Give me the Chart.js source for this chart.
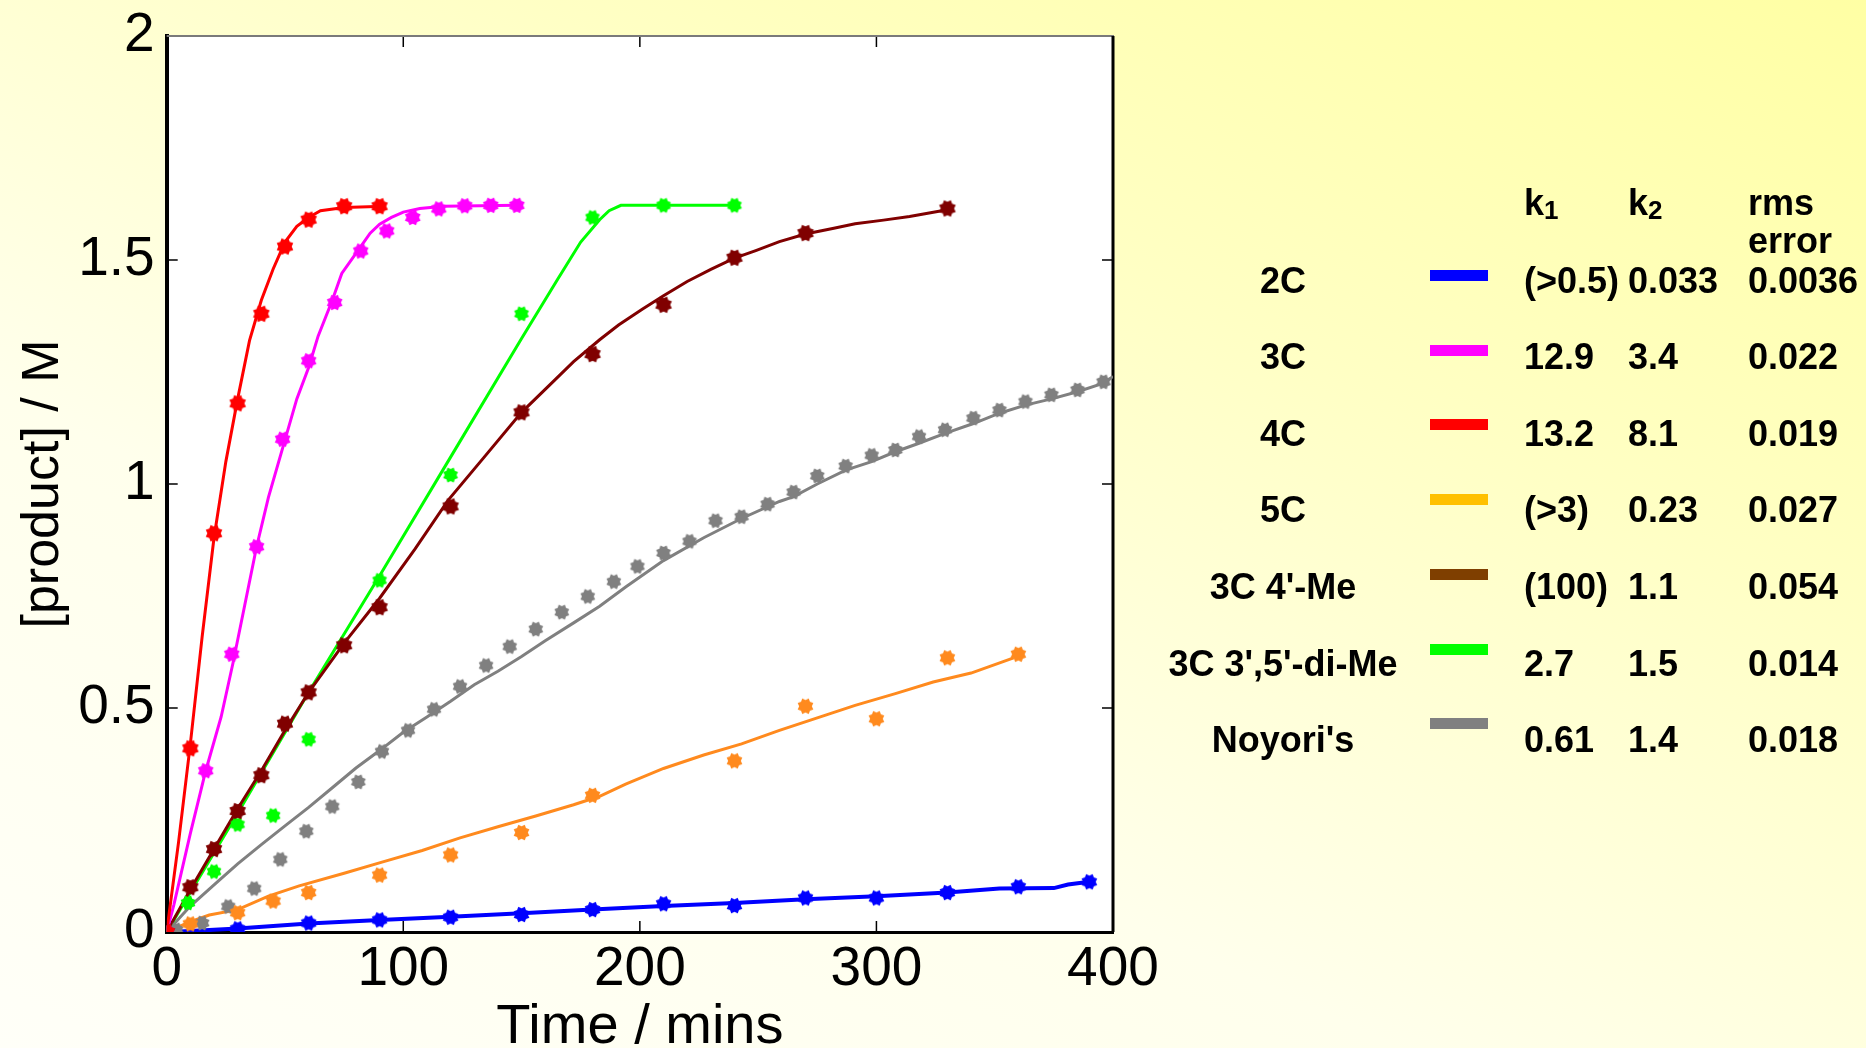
<!DOCTYPE html>
<html>
<head>
<meta charset="utf-8">
<script src="https://cdn.jsdelivr.net/npm/chart.js@4.4.1/dist/chart.umd.min.js"></script>
<style>
  html, body { margin:0; padding:0; }
  body {
    width:1866px; height:1048px; overflow:hidden; position:relative;
    background: linear-gradient(205deg, #FFFFA4 0%, #FFFFC4 32%, #FFFFEC 66%, #FFFFF8 100%);
    font-family: "Liberation Sans", Arial, sans-serif;
  }
  #wrap { position:absolute; left:0; top:0; width:1866px; height:1048px; }
  .t { position:absolute; font-weight:bold; font-size:36px; line-height:36px; color:#000; white-space:nowrap; }
  .lab { width:300px; text-align:center; }
  .bar { position:absolute; width:58px; height:11px; }
  sub { font-size:26px; position:relative; top:4px; vertical-align:baseline; }
</style>
</head>
<body>
<div id="wrap"><canvas id="c" width="1866" height="1048"></canvas></div>
<div id="legend"></div>
<script>
// ---------- axis ticks ----------
const xTicks = [0, 100, 200, 300, 400];
const yTicks = [0, 0.5, 1, 1.5, 2];
const yTickLabels = ['0', '0.5', '1', '1.5', '2'];
const xTickLabels = ['0', '100', '200', '300', '400'];

// ---------- 2C (blue) ----------
const t2C = [0, 30, 60, 90, 120, 150, 180, 210, 240, 270, 300, 330, 360, 390];
const y2C = [0, 0.007, 0.02, 0.027, 0.033, 0.039, 0.05, 0.063, 0.059, 0.076, 0.076, 0.088, 0.101, 0.112];
const fitT2C = [0, 10, 30, 60, 90, 120, 150, 180, 210, 240, 270, 300, 330, 352, 375, 381, 390];
const fitY2C = [0, 0.002, 0.008, 0.019, 0.027, 0.034, 0.042, 0.05, 0.058, 0.065, 0.073, 0.08, 0.088, 0.097, 0.098, 0.106, 0.112];

// ---------- 3C (magenta) ----------
const t3C = [0, 16.5, 27.5, 38, 49, 60, 71, 82, 93, 104, 115, 126, 137, 148];
const y3C = [0, 0.36, 0.62, 0.86, 1.10, 1.275, 1.405, 1.52, 1.565, 1.595, 1.614, 1.621, 1.622, 1.622];
const fitT3C = [0, 3, 10, 16.5, 23, 28, 33, 38, 43, 49, 55, 60, 64, 70, 74, 80, 86, 90, 95, 100, 107, 117, 148];
const fitY3C = [0, 0.06, 0.22, 0.36, 0.48, 0.6, 0.73, 0.86, 0.97, 1.08, 1.19, 1.26, 1.33, 1.41, 1.47, 1.515, 1.56, 1.58, 1.595, 1.607, 1.615, 1.62, 1.622];

// ---------- 4C (red) ----------
const t4C = [0, 10, 20, 30, 40, 50, 60, 75, 90];
const y4C = [0, 0.41, 0.89, 1.18, 1.38, 1.53, 1.59, 1.62, 1.62];
const fitT4C = [0, 5, 10, 15, 20, 25, 30, 35, 40, 45, 50, 55, 60, 65, 75, 92];
const fitY4C = [0, 0.2, 0.42, 0.66, 0.88, 1.05, 1.19, 1.32, 1.41, 1.48, 1.54, 1.575, 1.595, 1.61, 1.617, 1.62];

// ---------- 5C (orange) ----------
const t5C = [0, 10, 30, 45, 60, 90, 120, 150, 180, 240, 270, 300, 330, 360];
const y5C = [0, 0.018, 0.043, 0.069, 0.088, 0.127, 0.172, 0.222, 0.305, 0.382, 0.504, 0.476, 0.612, 0.62];
const fitT5C = [0, 10, 18, 30, 43, 56, 75, 91, 108, 124, 140, 156, 172, 183, 194, 210, 227, 243, 259, 275, 291, 308, 324, 340, 358];
const fitY5C = [0, 0.023, 0.038, 0.05, 0.08, 0.103, 0.131, 0.156, 0.182, 0.21, 0.235, 0.259, 0.284, 0.303, 0.33, 0.365, 0.395, 0.42, 0.45, 0.478, 0.506, 0.532, 0.558, 0.578, 0.612];

// ---------- 3C 4'-Me (maroon) ----------
const tMe = [0, 10, 20, 30, 40, 50, 60, 75, 90, 120, 150, 180, 210, 240, 270, 330];
const yMe = [0, 0.10, 0.185, 0.27, 0.35, 0.465, 0.535, 0.64, 0.725, 0.95, 1.16, 1.29, 1.40, 1.505, 1.56, 1.615];
const fitTMe = [0, 10, 20, 30, 40, 50, 60, 75, 90, 105, 119, 135, 150, 164, 172, 183, 191, 201, 210, 220, 230, 240, 249, 259, 270, 282, 291, 303, 314, 330];
const fitYMe = [0, 0.095, 0.185, 0.275, 0.36, 0.45, 0.535, 0.645, 0.745, 0.855, 0.964, 1.065, 1.16, 1.232, 1.273, 1.322, 1.355, 1.39, 1.42, 1.452, 1.479, 1.504, 1.521, 1.541, 1.558, 1.571, 1.581, 1.589, 1.597, 1.612];

// ---------- 3C 3',5'-di-Me (green) ----------
const tDiMe = [0, 9, 20, 30, 45, 60, 90, 120, 150, 180, 210, 240];
const yDiMe = [0, 0.065, 0.135, 0.24, 0.26, 0.43, 0.785, 1.02, 1.38, 1.595, 1.622, 1.622];
const fitTDiMe = [0, 30, 60, 90, 120, 150, 165, 175, 183, 187, 192, 240];
const fitYDiMe = [0, 0.265, 0.535, 0.795, 1.06, 1.325, 1.455, 1.54, 1.59, 1.61, 1.622, 1.622];

// ---------- Noyori's (grey) ----------
const tNoy = [0, 4, 15, 26, 37, 48, 59, 70, 81, 91, 102, 113, 124, 135, 145, 156, 167, 178, 189, 199, 210, 221, 232, 243, 254, 265, 275, 287, 298, 308, 318, 329, 341, 352, 363, 374, 385, 396];
const yNoy = [0, 0.005, 0.02, 0.057, 0.097, 0.162, 0.225, 0.28, 0.335, 0.403, 0.45, 0.497, 0.548, 0.595, 0.637, 0.676, 0.714, 0.749, 0.782, 0.816, 0.846, 0.872, 0.918, 0.927, 0.955, 0.982, 1.018, 1.04, 1.064, 1.076, 1.106, 1.121, 1.147, 1.165, 1.184, 1.199, 1.21, 1.228];
const fitTNoy = [0, 10, 20, 30, 40, 50, 60, 70, 80, 90, 100, 110, 120, 130, 140, 150, 160, 172, 183, 194, 210, 227, 243, 259, 265, 275, 287, 298, 308, 318, 329, 341, 352, 363, 374, 385, 396, 400];
const fitYNoy = [0, 0.058, 0.105, 0.152, 0.195, 0.237, 0.278, 0.322, 0.366, 0.405, 0.446, 0.48, 0.515, 0.552, 0.582, 0.615, 0.65, 0.69, 0.727, 0.77, 0.829, 0.88, 0.923, 0.961, 0.972, 1.0, 1.031, 1.05, 1.072, 1.091, 1.113, 1.135, 1.158, 1.176, 1.19, 1.206, 1.225, 1.24];

// ---------- legend table ----------
const seriesNames = ['2C', '3C', '4C', '5C', "3C 4'-Me", "3C 3',5'-di-Me", "Noyori's"];
const k1Values = ['(>0.5)', '12.9', '13.2', '(>3)', '(100)', '2.7', '0.61'];
const k2Values = ['0.033', '3.4', '8.1', '0.23', '1.1', '1.5', '1.4'];
const rmsValues = ['0.0036', '0.022', '0.019', '0.027', '0.054', '0.014', '0.018'];
const legendBarColors = ['#0000FF', '#FF00FF', '#FF0000', '#FFC000', '#7F3F00', '#00FF00', '#808080'];

// ---------- helpers ----------
function pts(ts, vs) { return ts.map((t, i) => ({ x: t, y: vs[i] })); }
function marker(color, r) {
  const s = Math.ceil(r * 2 + 2);
  const c = document.createElement('canvas');
  c.width = s; c.height = s;
  const g = c.getContext('2d');
  g.fillStyle = color;
  g.beginPath();
  const n = 8;
  for (let i = 0; i < 2 * n; i++) {
    const a = i * Math.PI / n + Math.PI / 8;
    const rr = (i % 2 === 0) ? r : r * 0.74;
    g.lineTo(s / 2 + rr * Math.cos(a), s / 2 + rr * Math.sin(a));
  }
  g.closePath();
  g.fill();
  return c;
}

const series = [
  { T: t2C, Y: y2C, FT: fitT2C, FY: fitY2C, color: '#0000FF', w: 4, r: 8.5 },
  { T: tNoy, Y: yNoy, FT: fitTNoy, FY: fitYNoy, color: '#808080', w: 3, r: 8 },
  { T: t5C, Y: y5C, FT: fitT5C, FY: fitY5C, color: '#FF8A1E', w: 3, r: 8.5 },
  { T: tDiMe, Y: yDiMe, FT: fitTDiMe, FY: fitYDiMe, color: '#00FF00', w: 3, r: 8 },
  { T: tMe, Y: yMe, FT: fitTMe, FY: fitYMe, color: '#800000', w: 3, r: 9 },
  { T: t3C, Y: y3C, FT: fitT3C, FY: fitY3C, color: '#FF00FF', w: 3, r: 8.5 },
  { T: t4C, Y: y4C, FT: fitT4C, FY: fitY4C, color: '#FF0000', w: 3, r: 9 }
];

const datasets = [];
series.forEach((s, i) => {
  datasets.push({
    type: 'scatter', data: pts(s.FT, s.FY), showLine: true, borderColor: s.color,
    borderWidth: s.w, pointRadius: 0, tension: 0, fill: false, order: 20 - i
  });
  datasets.push({
    type: 'scatter', data: pts(s.T, s.Y), showLine: false,
    pointStyle: marker(s.color, s.r), pointRadius: s.r, backgroundColor: s.color,
    borderColor: s.color, order: 10 - i
  });
});

const TICK = 11;
const framePlugin = {
  id: 'frame',
  beforeDraw(chart) {
    const { ctx, chartArea: a } = chart;
    ctx.save();
    ctx.fillStyle = '#FFFFFF';
    ctx.fillRect(a.left, a.top, a.right - a.left, a.bottom - a.top);
    ctx.restore();
  },
  beforeDatasetsDraw(chart) {
    const { ctx, chartArea: a, scales: { x, y } } = chart;
    ctx.save();
    ctx.strokeStyle = '#000';
    ctx.lineWidth = 1.5;
    ctx.beginPath();
    xTicks.slice(1, -1).forEach(v => {
      const px = x.getPixelForValue(v);
      ctx.moveTo(px, a.bottom); ctx.lineTo(px, a.bottom - TICK);
      ctx.moveTo(px, a.top); ctx.lineTo(px, a.top + TICK);
    });
    yTicks.slice(1, -1).forEach(v => {
      const py = y.getPixelForValue(v);
      ctx.moveTo(a.left, py); ctx.lineTo(a.left + TICK, py);
      ctx.moveTo(a.right, py); ctx.lineTo(a.right - TICK, py);
    });
    ctx.stroke();
    ctx.strokeStyle = '#7a7a7a';
    ctx.lineWidth = 2;
    ctx.beginPath(); ctx.moveTo(a.left, a.top); ctx.lineTo(a.right + 1, a.top); ctx.stroke();
    ctx.strokeStyle = '#000';
    ctx.lineWidth = 3;
    ctx.beginPath(); ctx.moveTo(a.right, a.top); ctx.lineTo(a.right, a.bottom); ctx.stroke();
    ctx.restore();
  }
};

const tickFont = { family: '"Liberation Sans", Arial, sans-serif', size: 55, lineHeight: 0.8 };

new Chart(document.getElementById('c'), {
  type: 'scatter',
  data: { datasets },
  options: {
    responsive: false,
    animation: false,
    devicePixelRatio: 1,
    layout: { padding: { left: 0, top: 36, right: 753, bottom: 0 } },
    plugins: { legend: { display: false }, tooltip: { enabled: false } },
    scales: {
      x: {
        type: 'linear', min: 0, max: 400,
        afterFit(s) { s.height = 116; },
        afterBuildTicks(s) { s.ticks = xTicks.map(v => ({ value: v })); },
        grid: { display: false, drawTicks: false },
        border: { display: true, color: '#000', width: 3 },
        ticks: { font: { family: '"Liberation Sans", Arial, sans-serif', size: 55 }, color: '#000', padding: 5, maxRotation: 0,
                 callback: (v) => xTickLabels[xTicks.indexOf(v)] },
        title: { display: true, text: 'Time / mins', color: '#000',
                 font: { family: '"Liberation Sans", Arial, sans-serif', size: 56, lineHeight: 1 },
                 padding: { top: 0, bottom: -8 } }
      },
      y: {
        type: 'linear', min: 0, max: 2,
        afterFit(s) { s.width = 166.7; },
        afterBuildTicks(s) { s.ticks = yTicks.map(v => ({ value: v })); },
        grid: { display: false, drawTicks: false },
        border: { display: true, color: '#000', width: 4 },
        ticks: { font: tickFont, color: '#000', padding: 12,
                 callback: (v) => yTickLabels[yTicks.indexOf(v)] },
        title: { display: true, text: '[product] / M', color: '#000',
                 font: { family: '"Liberation Sans", Arial, sans-serif', size: 52, lineHeight: 1 },
                 padding: { top: 18, bottom: 0 } }
      }
    }
  },
  plugins: [framePlugin]
});

// ---------- HTML legend table ----------
(function () {
  const L = document.getElementById('legend');
  const add = (html, cls, left, baseline) => {
    const d = document.createElement('div');
    d.className = 't ' + cls;
    d.innerHTML = html;
    d.style.left = left + 'px';
    d.style.top = (baseline - 30.5) + 'px';
    L.appendChild(d);
  };
  add('k<sub>1</sub>', '', 1524, 215);
  add('k<sub>2</sub>', '', 1628, 215);
  add('rms', '', 1748, 215);
  add('error', '', 1748, 253);
  seriesNames.forEach((name, i) => {
    const base = 293 + 76.6 * i;
    add(name, 'lab', 1133, base);
    add(k1Values[i], '', 1524, base);
    add(k2Values[i], '', 1628, base);
    add(rmsValues[i], '', 1748, base);
    const b = document.createElement('div');
    b.className = 'bar';
    b.style.left = '1430px';
    b.style.top = (270 + 74.7 * i) + 'px';
    b.style.background = legendBarColors[i];
    L.appendChild(b);
  });
})();
</script>
</body>
</html>
